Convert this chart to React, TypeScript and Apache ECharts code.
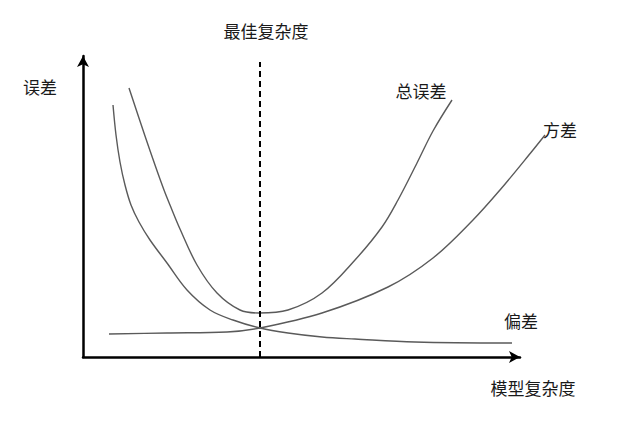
import React, { useEffect, useRef } from "react";
import * as echarts from "echarts";

// Values (x: model complexity, y: error), arbitrary units
const biasPoints: [number, number][] = [
  [30, 252], [33, 222], [37, 195], [42, 172], [48, 152], [56, 135], [67, 117], [84, 94],
  [104, 67], [127, 47], [150, 37], [177, 29], [205, 24], [239, 20], [272, 18], [332, 15], [429, 14],
];
const totalPoints: [number, number][] = [
  [46, 269], [62, 221], [72, 192], [81, 167], [87, 152], [97, 128], [114, 92], [134, 64],
  [157, 47], [176, 44], [205, 47], [239, 64], [272, 97], [299, 130], [315, 157], [334, 194],
  [350, 226], [369, 257],
];
const variancePoints: [number, number][] = [
  [26, 23], [84, 24], [144, 25], [177, 29], [239, 44], [305, 70], [350, 99], [390, 137],
  [417, 167], [450, 207], [462, 222],
];
const bestComplexity = 177;
const bestLineTop = 295;
const xMax = 437; // end of drawn x axis
const yMax = 301; // end of drawn y axis
const dataXMax = 480; // data extent (curves run past the axis arrow)

const seriesNames = ["总误差", "方差", "偏差"];
const xAxisTitle = "模型复杂度";
const yAxisTitle = "误差";
const bestTitle = "最佳复杂度";

export default function App() {
  const ref = useRef<HTMLDivElement>(null);
  useEffect(() => {
    if (!ref.current) return;
    const chart = echarts.init(ref.current, null, { renderer: "svg" });
    const font = '17px "Noto Sans CJK SC", "Noto Sans", sans-serif';
    const curveStyle = { color: "#5a5a5a", width: 1.4 };
    const txt = (text: string, x: number, y: number) => ({
      type: "text",
      x,
      y,
      style: { text, font, fill: "#1a1a1a", textAlign: "center", textVerticalAlign: "middle" },
    });
    const arrowAxis = (max: number, gridIndex: number) => ({
      type: "value",
      gridIndex,
      min: 0,
      max,
      axisLine: {
        show: true,
        onZero: false,
        symbol: ["none", "arrow"],
        symbolSize: [9, 11],
        lineStyle: { color: "#000", width: 2.5 },
      },
      axisTick: { show: false },
      axisLabel: { show: false },
      splitLine: { show: false },
    });
    const hiddenAxis = (max: number, gridIndex: number) => ({
      type: "value",
      gridIndex,
      min: 0,
      max,
      show: false,
      splitLine: { show: false },
    });
    const curve = (name: string, data: [number, number][]) => ({
      name,
      type: "line",
      xAxisIndex: 1,
      yAxisIndex: 1,
      data,
      smooth: 0.35,
      showSymbol: false,
      clip: false,
      lineStyle: curveStyle,
    });
    chart.setOption({
      animation: false,
      backgroundColor: "#fff",
      grid: [
        { left: 83, top: 56, width: xMax, height: yMax },
        { left: 83, top: 56, width: dataXMax, height: yMax },
      ],
      xAxis: [arrowAxis(xMax, 0), hiddenAxis(dataXMax, 1)],
      yAxis: [arrowAxis(yMax, 0), hiddenAxis(yMax, 1)],
      series: [
        curve(seriesNames[0], totalPoints),
        curve(seriesNames[1], variancePoints),
        curve(seriesNames[2], biasPoints),
        {
          name: "best",
          type: "line",
          xAxisIndex: 1,
          yAxisIndex: 1,
          data: [
            [bestComplexity, 0],
            [bestComplexity, bestLineTop],
          ],
          showSymbol: false,
          clip: false,
          lineStyle: { color: "#000", width: 2, type: [6, 4] },
        },
      ],
      graphic: [
        txt(bestTitle, 266, 30),
        txt(yAxisTitle, 40, 86),
        txt(seriesNames[0], 421, 90),
        txt(seriesNames[1], 560, 129),
        txt(seriesNames[2], 521, 320),
        txt(xAxisTitle, 533, 387),
      ],
    });
    return () => chart.dispose();
  }, []);
  return <div ref={ref} style={{ width: 641, height: 432, position: "absolute", left: 0, top: 0 }} />;
}
